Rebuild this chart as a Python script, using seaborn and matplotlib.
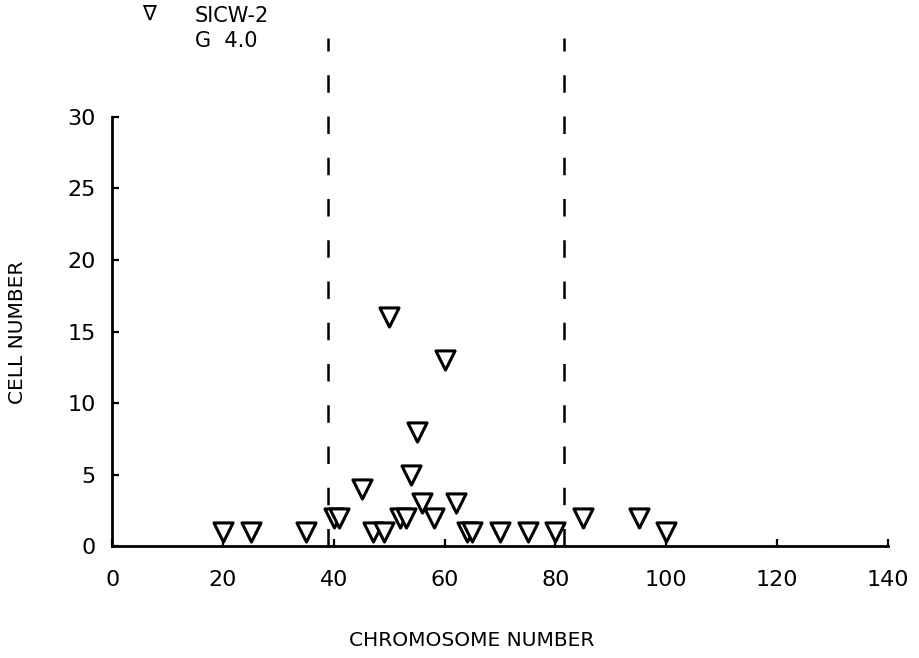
import pandas as pd
import seaborn as sns
import matplotlib.pyplot as plt

# chromosome number vs cell count, SICW-2 G 4.0
chromosomes = [20, 25, 35, 40, 41, 45, 47, 49, 50, 52, 53, 54, 55, 56, 58,
               60, 62, 64, 65, 70, 75, 80, 85, 95, 100]
cells = [1, 1, 1, 2, 2, 4, 1, 1, 16, 2, 2, 5, 8, 3, 2,
         13, 3, 1, 1, 1, 1, 1, 2, 2, 1]
cutoffs = [39, 81.5]

df = pd.DataFrame({'chromosome': chromosomes, 'cells': cells})

sns.set_style('ticks')
plt.rcParams['font.family'] = ['DejaVu Sans']
plt.rcParams['text.color'] = 'black'
plt.rcParams['axes.labelcolor'] = 'black'
plt.rcParams['xtick.color'] = 'black'
plt.rcParams['ytick.color'] = 'black'
plt.rcParams['axes.edgecolor'] = 'black'

fig = plt.figure(figsize=(9.2, 6.58), dpi=100)
ax = fig.add_axes([0.122, 0.170, 0.843, 0.772])

sns.scatterplot(data=df, x='chromosome', y='cells', marker='v', s=190,
                facecolor='white', edgecolor='black', linewidth=2.2,
                ax=ax, zorder=3, clip_on=False)

for c in cutoffs:
    ax.axvline(c, ymin=0, ymax=1, color='black', lw=1.8,
               dashes=(7, 9.5), zorder=1)

ax.set_xlim(0, 140)
ax.set_ylim(0, 35.5)
ax.set_xticks(range(0, 141, 20))
ax.set_yticks(range(0, 31, 5))
ax.spines['top'].set_visible(False)
ax.spines['right'].set_visible(False)
ax.spines['left'].set_bounds(0, 30)
for s in ('left', 'bottom'):
    ax.spines[s].set_linewidth(2)
ax.tick_params(direction='in', length=5, width=1.6, labelsize=16)
ax.tick_params(axis='x', pad=17)
ax.tick_params(axis='y', pad=12)

ax.set_xlabel('CHROMOSOME NUMBER', fontsize=14.5)
ax.set_ylabel('CELL NUMBER', fontsize=14.5)
ax.xaxis.set_label_coords(0.463, -0.168)
ax.yaxis.set_label_coords(-0.11, 0.42)

# legend block
fig.text(0.163, 0.979, r'$\nabla$', fontsize=15, ha='center', va='center',
         fontweight='bold')
fig.text(0.212, 0.975, 'SICW-2', fontsize=15, va='center')
fig.text(0.212, 0.938, 'G  4.0', fontsize=15, va='center')

fig.savefig('out.png', dpi=100)
